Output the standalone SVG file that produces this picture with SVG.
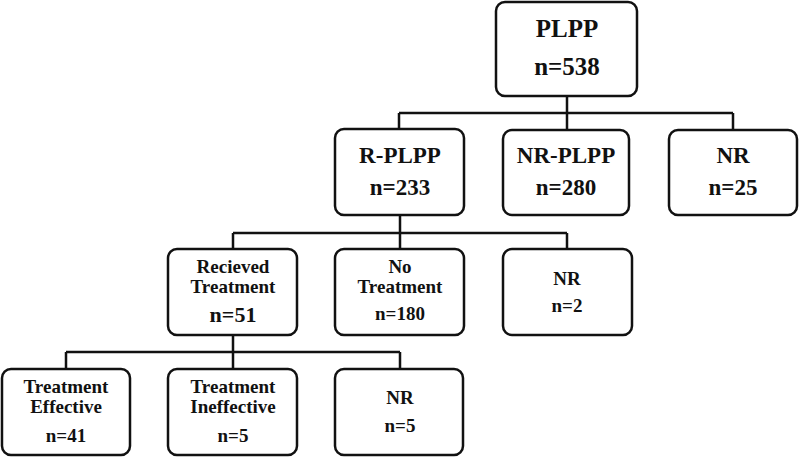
<svg xmlns="http://www.w3.org/2000/svg" width="800" height="457" viewBox="0 0 800 457">
<style>
.box{fill:#fff;stroke:#111;stroke-width:2.5}
.ln{fill:none;stroke:#111;stroke-width:2.5}
text{font-family:"Liberation Serif","Times New Roman",serif;font-weight:bold;fill:#111;text-anchor:middle}
.t0{font-size:25px}
.t1{font-size:23px}
.t2{font-size:19px}
.t3{font-size:22px}
</style>
<rect width="800" height="457" fill="#fff"/>
<g id="connectors">
<path class="ln" d="M567,96V113M399,113H733M399,113V129M567,113V130M733,113V130"/>
<path class="ln" d="M400,215V233M233,233H567M233,233V249M400,233V249M567,233V249"/>
<path class="ln" d="M233,335V352M66,352H400M66,352V369M233,352V369M400,352V369"/>
</g>
<g id="plpp"><rect class="box" x="496" y="2" width="141" height="94" rx="9"/><text class="t0" x="567" y="37">PLPP</text><text class="t0" x="567" y="75">n=538</text></g>
<g id="r-plpp"><rect class="box" x="335" y="129" width="129" height="86" rx="9"/><text class="t1" x="400" y="163">R-PLPP</text><text class="t1" x="400" y="195">n=233</text></g>
<g id="nr-plpp"><rect class="box" x="503" y="130" width="126" height="85" rx="9"/><text class="t1" x="566" y="163">NR-PLPP</text><text class="t1" x="566" y="195">n=280</text></g>
<g id="nr1"><rect class="box" x="669" y="130" width="128" height="85" rx="9"/><text class="t1" x="733" y="163">NR</text><text class="t1" x="733" y="195">n=25</text></g>
<g id="received"><rect class="box" x="168" y="249" width="129" height="86" rx="9"/><text class="t2" x="233" y="273">Recieved</text><text class="t2" x="233" y="293">Treatment</text><text class="t3" x="233" y="322">n=51</text></g>
<g id="notreatment"><rect class="box" x="335" y="249" width="129" height="86" rx="9"/><text class="t2" x="400" y="273">No</text><text class="t2" x="400" y="293">Treatment</text><text class="t2" x="400" y="320">n=180</text></g>
<g id="nr2"><rect class="box" x="503" y="249" width="129" height="86" rx="9"/><text class="t2" x="567" y="285">NR</text><text class="t2" x="567" y="312">n=2</text></g>
<g id="effective"><rect class="box" x="2" y="369" width="128" height="86" rx="9"/><text class="t2" x="66" y="393">Treatment</text><text class="t2" x="66" y="413">Effective</text><text class="t2" x="66" y="442">n=41</text></g>
<g id="ineffective"><rect class="box" x="168" y="369" width="129" height="86" rx="9"/><text class="t2" x="233" y="393">Treatment</text><text class="t2" x="233" y="413">Ineffective</text><text class="t2" x="233" y="442">n=5</text></g>
<g id="nr3"><rect class="box" x="335" y="369" width="128" height="86" rx="9"/><text class="t2" x="400" y="404">NR</text><text class="t2" x="400" y="432">n=5</text></g>
</svg>
